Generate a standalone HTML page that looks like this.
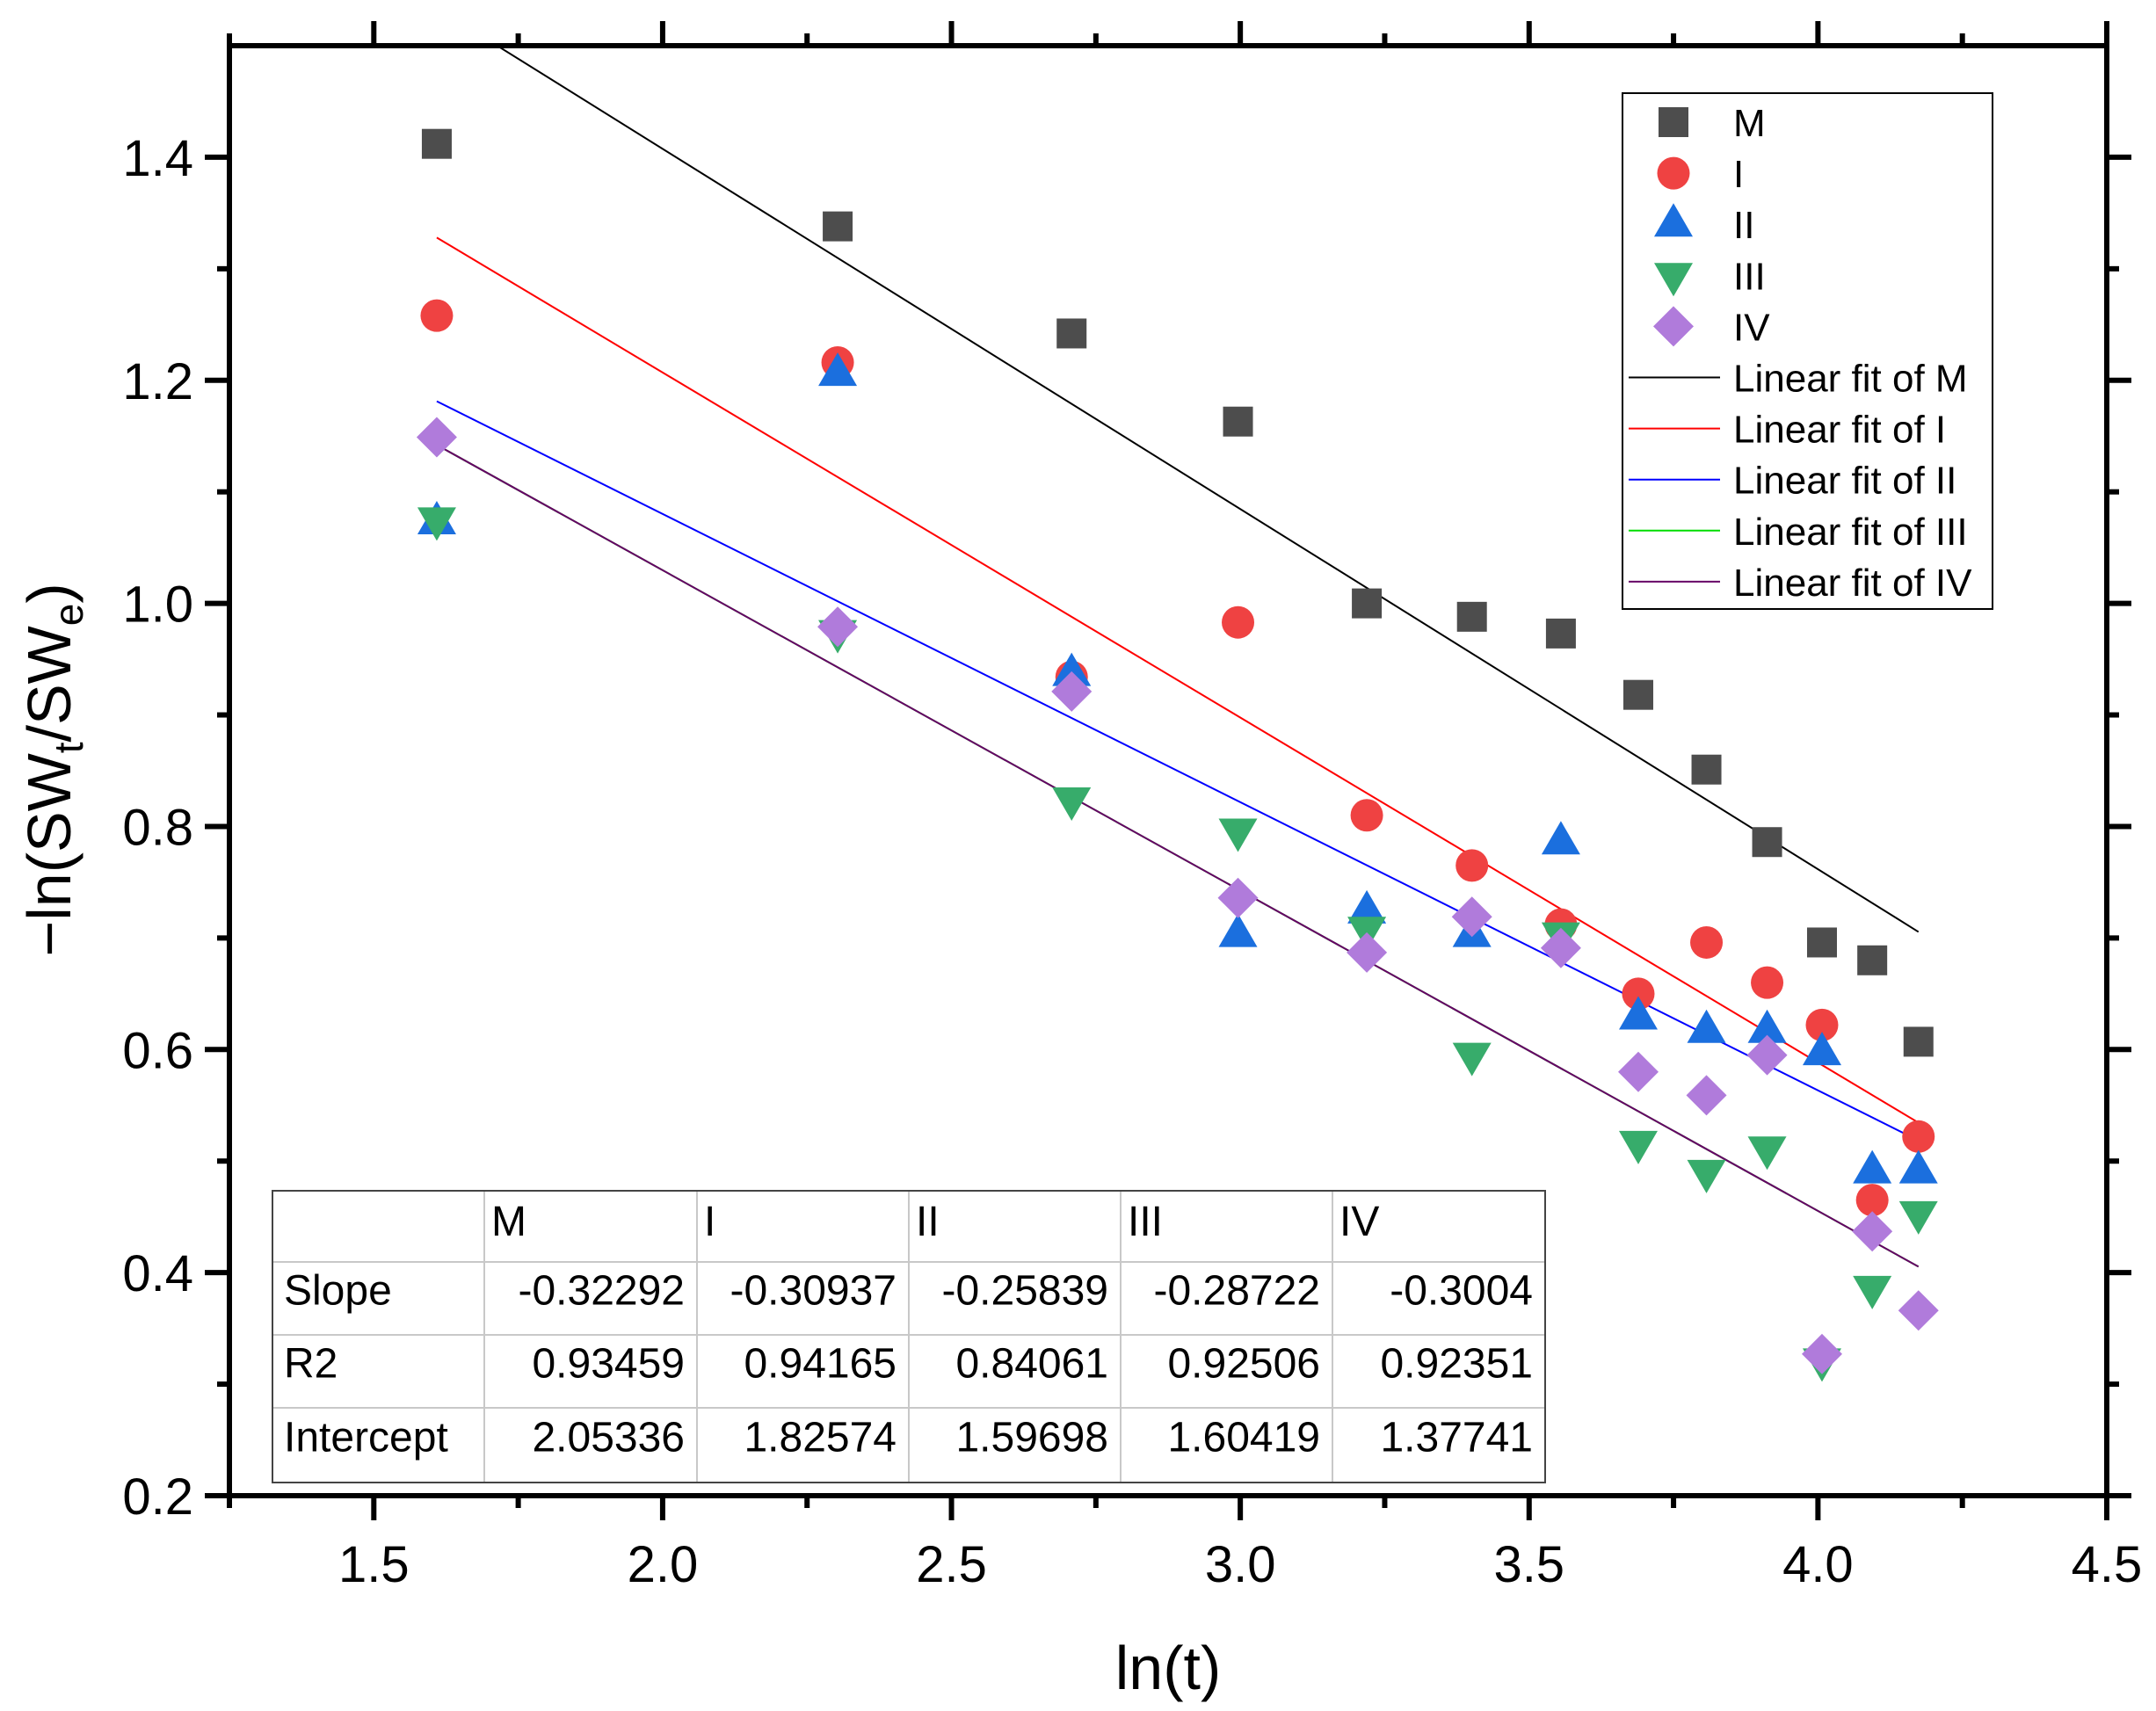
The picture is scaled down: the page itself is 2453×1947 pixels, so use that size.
<!DOCTYPE html>
<html><head><meta charset="utf-8"><style>
html,body{margin:0;padding:0;background:#fff}
svg{display:block;font-family:"Liberation Sans",Arial,sans-serif}
</style></head><body>
<svg id="chart" width="2453" height="1947" viewBox="0 0 2453 1947">
<g id="fits"></g>
<g id="marks"></g>
<g id="axes"></g>
<g id="legend"></g>
<g id="table"></g>
</svg>
<script>
const xVals = [1.609,2.303,2.708,2.996,3.219,3.401,3.555,3.689,3.807,3.912,4.007,4.094,4.174];
const seriesM = [1.412,1.338,1.242,1.163,1.0,0.988,0.973,0.918,0.851,0.786,0.696,0.680,0.607];
const seriesI = [1.258,1.216,0.934,0.983,0.810,0.765,0.712,0.650,0.696,0.660,0.622,0.465,0.522];
const seriesII = [1.073,1.206,0.937,0.703,0.724,0.703,0.786,0.629,0.617,0.617,0.597,0.491,0.491];
const seriesIII = [1.075,0.974,0.824,0.796,0.708,0.595,0.703,0.516,0.490,0.511,0.321,0.386,0.453];
const seriesIV = [1.149,0.979,0.921,0.736,0.687,0.719,0.691,0.580,0.559,0.595,0.327,0.437,0.366];
const seriesNames = ["M","I","II","III","IV"];
const fitSlopes = [-0.32292,-0.30937,-0.25839,-0.28722,-0.28722];
const fitIntercepts = [2.05336,1.82574,1.59698,1.60419,1.60419];
const xTicks = [1.5,2.0,2.5,3.0,3.5,4.0,4.5];
const yTicks = [0.2,0.4,0.6,0.8,1.0,1.2,1.4];
const tableHeader = ["","M","I","II","III","IV"];
const tableRows = [["Slope","-0.32292","-0.30937","-0.25839","-0.28722","-0.3004"],
 ["R2","0.93459","0.94165","0.84061","0.92506","0.92351"],
 ["Intercept","2.05336","1.82574","1.59698","1.60419","1.37741"]];

const NS="http://www.w3.org/2000/svg";
const L=261,R=2397,T=52,B=1702,X0=1.25,X1=4.5,Y0=0.2,Y1=1.5;
const sx=v=>L+(v-X0)/(X1-X0)*(R-L);
const sy=v=>B-(v-Y0)/(Y1-Y0)*(B-T);
function mk(tag,attrs,parent,text){const e=document.createElementNS(NS,tag);for(const k in attrs)e.setAttribute(k,attrs[k]);if(text!==undefined)e.textContent=text;parent.appendChild(e);return e;}
const colors=["#4d4d4d","#ef4242","#1b6fde","#37ac6b","#b07bdb"];
const lineColors=["#000000","#ff0000","#0000ff","#00dd00","#660066"];
const series=[seriesM,seriesI,seriesII,seriesIII,seriesIV];
function marker(i,cx,cy,parent){
  let e;
  if(i==0)e=mk("rect",{x:cx-17,y:cy-17,width:34,height:34,fill:colors[0]},parent);
  else if(i==1)e=mk("circle",{cx:cx,cy:cy,r:18.5,fill:colors[1]},parent);
  else if(i==2)e=mk("polygon",{points:`${cx},${cy-24} ${cx+22},${cy+14} ${cx-22},${cy+14}`,fill:colors[2]},parent);
  else if(i==3)e=mk("polygon",{points:`${cx},${cy+24} ${cx+22},${cy-14} ${cx-22},${cy-14}`,fill:colors[3]},parent);
  else e=mk("polygon",{points:`${cx},${cy-23} ${cx+23},${cy} ${cx},${cy+23} ${cx-23},${cy}`,fill:colors[4]},parent);
  return e;
}
const defs=mk("defs",{},document.getElementById("chart"));
const cp=mk("clipPath",{id:"pc"},defs);mk("rect",{x:L,y:T,width:R-L,height:B-T},cp);
const fits=document.getElementById("fits");fits.setAttribute("clip-path","url(#pc)");
for(let i=0;i<5;i++){
  const xa=xVals[0],xb=xVals[xVals.length-1];
  const ln=mk("line",{x1:sx(xa),y1:sy(fitIntercepts[i]+fitSlopes[i]*xa),x2:sx(xb),y2:sy(fitIntercepts[i]+fitSlopes[i]*xb),stroke:lineColors[i],"stroke-width":2},fits);
  
  
}
const marks=document.getElementById("marks");
for(let i=0;i<5;i++){
  const g=mk("g",{},marks);
  
  
  series[i].forEach((v,j)=>{const m=marker(i,sx(xVals[j]),sy(v),g);
    
    });
}
const ax=document.getElementById("axes");
mk("rect",{x:L,y:T,width:R-L,height:B-T,fill:"none",stroke:"#000","stroke-width":6},ax);
xTicks.forEach((t,k)=>{const x=sx(t);
  mk("line",{x1:x,y1:B,x2:x,y2:B+28,stroke:"#000","stroke-width":6},ax);
  mk("line",{x1:x,y1:T,x2:x,y2:T-28,stroke:"#000","stroke-width":6},ax);
  const tx=mk("text",{x:x,y:1800,"font-size":58,"text-anchor":"middle"},ax,t.toFixed(1));
  
  const m=t-0.25;if(m>=X0){const mx=sx(m);
    mk("line",{x1:mx,y1:B,x2:mx,y2:B+14,stroke:"#000","stroke-width":6},ax);
    mk("line",{x1:mx,y1:T,x2:mx,y2:T-14,stroke:"#000","stroke-width":6},ax);}
});
yTicks.forEach(t=>{const y=sy(t);
  mk("line",{x1:L,y1:y,x2:L-28,y2:y,stroke:"#000","stroke-width":6},ax);
  mk("line",{x1:R,y1:y,x2:R+28,y2:y,stroke:"#000","stroke-width":6},ax);
  const tx=mk("text",{x:220,y:y+21,"font-size":58,"text-anchor":"end"},ax,t.toFixed(1));
  
  const m=t+0.1;if(m<Y1){const my=sy(m);
    mk("line",{x1:L,y1:my,x2:L-14,y2:my,stroke:"#000","stroke-width":6},ax);
    mk("line",{x1:R,y1:my,x2:R+14,y2:my,stroke:"#000","stroke-width":6},ax);}
});
const xt=mk("text",{x:1329,y:1922,"font-size":70,"text-anchor":"middle"},ax,"ln(t)");

const yt=mk("text",{x:0,y:0,"font-size":70,"text-anchor":"middle",transform:"translate(80,876) rotate(-90)"},ax);

yt.innerHTML='−ln(SW<tspan font-size="46" dy="14">t</tspan><tspan dy="-14">/SW</tspan><tspan font-size="46" dy="14">e</tspan><tspan dy="-14">)</tspan>';
const lg=document.getElementById("legend");
mk("rect",{x:1846,y:106,width:421,height:587,fill:"#fff",stroke:"#000","stroke-width":2},lg);
const labels=["M","I","II","III","IV","Linear fit of M","Linear fit of I","Linear fit of II","Linear fit of III","Linear fit of IV"];
labels.forEach((s,k)=>{const y=139+k*58.1;
  const g=mk("g",{},lg);
  if(k<5)marker(k,1904,y,g);else mk("line",{x1:1853,y1:y,x2:1957,y2:y,stroke:lineColors[k-5],"stroke-width":2},g);
  mk("text",{x:1972,y:y+16,"font-size":44},g,s);
});
const tb=document.getElementById("table");
const cols=[310,551,793,1034,1275,1516,1758],rows=[1355,1436,1519,1602,1687];
mk("rect",{x:310,y:1355,width:1448,height:332,fill:"#fff"},tb);
for(let i=1;i<6;i++)mk("line",{x1:cols[i],y1:1355,x2:cols[i],y2:1687,stroke:"#c8c8c8","stroke-width":2},tb);
for(let i=1;i<4;i++)mk("line",{x1:310,y1:rows[i],x2:1758,y2:rows[i],stroke:"#c8c8c8","stroke-width":2},tb);
mk("rect",{x:310,y:1355,width:1448,height:332,fill:"none",stroke:"#444","stroke-width":2},tb);
tableHeader.forEach((s,i)=>{if(s)mk("text",{x:cols[i]+8,y:1406,"font-size":48},tb,s);});
tableRows.forEach((r,ri)=>{const y=rows[ri+1]+(rows[ri+2]-rows[ri+1])/2+7;
  r.forEach((s,i)=>{if(i==0)mk("text",{x:cols[0]+13,y:y,"font-size":48},tb,s);
    else mk("text",{x:cols[i+1]-14,y:y,"font-size":48,"text-anchor":"end"},tb,s);});});
</script>
</body></html>
